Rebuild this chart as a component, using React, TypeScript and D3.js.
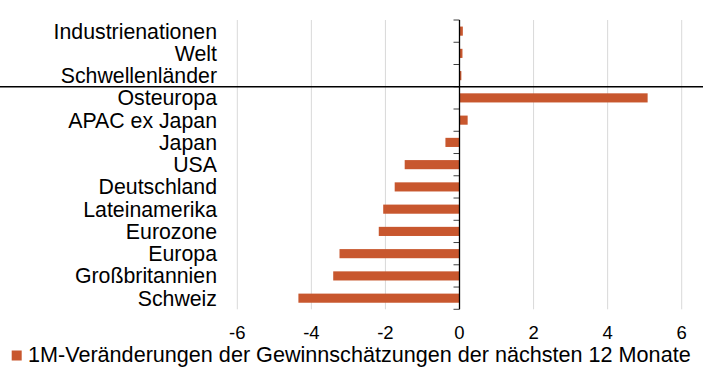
import React from "react";
import * as d3 from "d3";

const categories = [
  "Industrienationen",
  "Welt",
  "Schwellenländer",
  "Osteuropa",
  "APAC ex Japan",
  "Japan",
  "USA",
  "Deutschland",
  "Lateinamerika",
  "Eurozone",
  "Europa",
  "Großbritannien",
  "Schweiz",
];
const values = [0.09, 0.08, 0.05, 5.08, 0.22, -0.38, -1.48, -1.75, -2.06, -2.18, -3.24, -3.41, -4.35];
const xTicks = [-6, -4, -2, 0, 2, 4, 6];
const legendLabel = "1M-Veränderungen der Gewinnschätzungen der nächsten 12 Monate";

const W = 703;
const H = 378;
const barColor = "#C8572E";
const font = "'Liberation Sans', Arial, sans-serif";

export default function App() {
  const x = d3.scaleLinear().domain([-6, 6]).range([237.3, 681.7]);
  const y = d3.scaleBand().domain(categories).range([20, 309.3]).paddingInner(0).paddingOuter(0);
  const bw = y.bandwidth();
  const barH = bw * 0.41;
  const x0 = x(0);
  const boundaries = d3.range(categories.length + 1).map((i) => 20 + i * bw);
  const sepY = y("Osteuropa")!;

  return (
    <svg
      width={W}
      height={H}
      style={{ position: "absolute", left: 0, top: 0, background: "#fff" }}
      fontFamily={font}
    >
      {xTicks.filter((t) => t !== 0).map((t) => (
        <line key={"g" + t} x1={x(t)} x2={x(t)} y1={20} y2={309.3} stroke="#d9d9d9" strokeWidth={1} />
      ))}
      {categories.map((c, i) => {
        const v = values[i];
        return (
          <rect
            key={c}
            x={Math.min(x(v), x0)}
            width={Math.abs(x(v) - x0)}
            y={y(c)! + (bw - barH) / 2}
            height={barH}
            fill={barColor}
          />
        );
      })}
      {boundaries.map((b, i) => (
        <line key={"t" + i} x1={x0 - 6} x2={x0} y1={b} y2={b} stroke="#404040" strokeWidth={1} />
      ))}
      <line x1={x0} x2={x0} y1={20} y2={309.3} stroke="#000" strokeWidth={1.3} />
      <line x1={0} x2={W} y1={sepY} y2={sepY} stroke="#000" strokeWidth={1.3} />
      {categories.map((c) => (
        <text
          key={"l" + c}
          x={217}
          y={y(c)! + bw / 2}
          dy="0.35em"
          textAnchor="end"
          fontSize={21.3}
          fill="#000"
        >
          {c}
        </text>
      ))}
      {xTicks.map((t) => (
        <text key={"x" + t} x={x(t)} y={339.3} textAnchor="middle" fontSize={18.5} fill="#000">
          {t}
        </text>
      ))}
      <rect x={11.7} y={350.5} width={10} height={10} fill={barColor} />
      <text x={28} y={362.3} fontSize={21.6} fill="#000">
        {legendLabel}
      </text>
    </svg>
  );
}
